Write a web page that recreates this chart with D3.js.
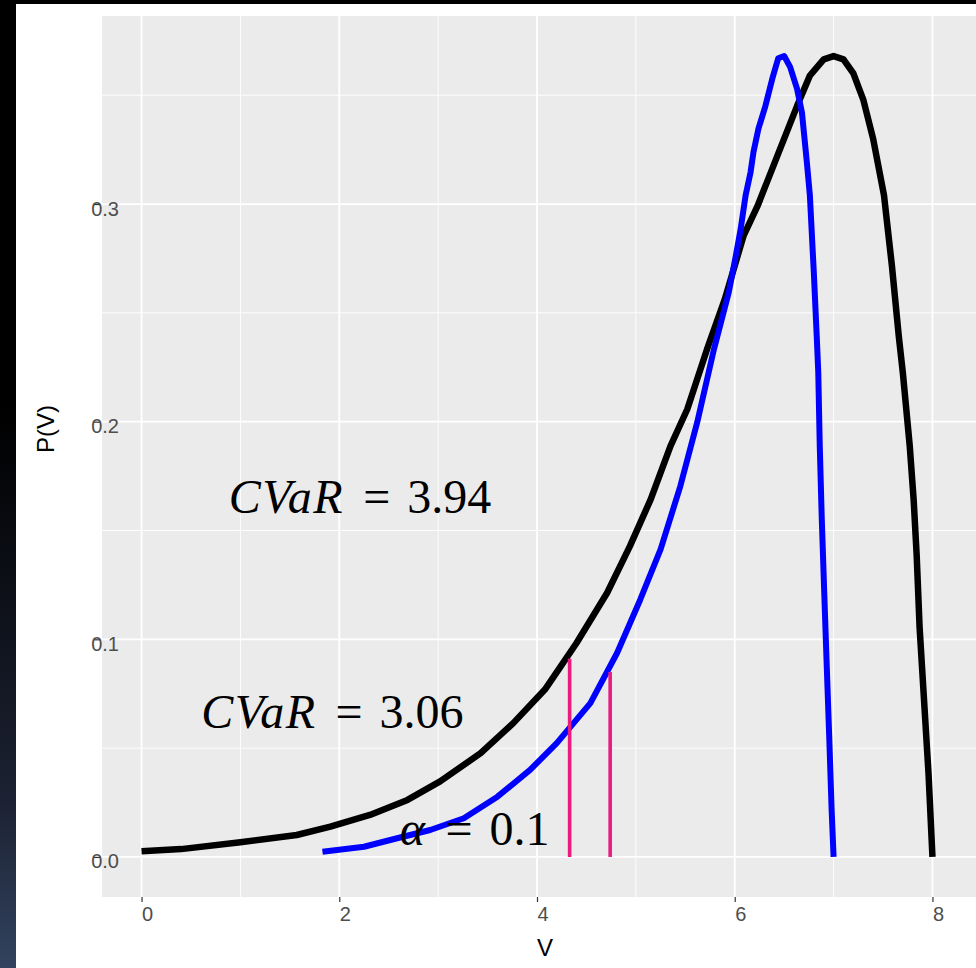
<!DOCTYPE html>
<html>
<head>
<meta charset="utf-8">
<script src="https://cdnjs.cloudflare.com/ajax/libs/d3/7.8.5/d3.min.js"></script>
<style>
  body { margin: 0; background: #fff; }
  svg { display: block; }
</style>
</head>
<body>
<div id="chart"></div>
<script>
// Black density (V, P(V))
const blackV = [0.0, 0.4, 1.0, 1.57, 1.91, 2.31, 2.69, 3.02, 3.43, 3.76, 4.08, 4.24, 4.40, 4.71, 4.94,
  5.15, 5.35, 5.52, 5.72, 5.90, 6.09, 6.23, 6.43, 6.63, 6.76, 6.90, 7.0, 7.10, 7.20, 7.30, 7.40,
  7.51, 7.59, 7.66, 7.70, 7.77, 7.81, 7.84, 7.87, 7.915, 7.96, 8.0];
const blackP = [0.0026, 0.0036, 0.0068, 0.0101, 0.0139, 0.0193, 0.0262, 0.0347, 0.0477, 0.0615, 0.0769, 0.0876, 0.0983, 0.1214, 0.1428,
  0.1643, 0.1888, 0.2057, 0.2333, 0.2563, 0.2855, 0.299, 0.322, 0.345, 0.359, 0.3665, 0.368, 0.3665, 0.360, 0.348, 0.330,
  0.304, 0.2716, 0.239, 0.2227, 0.189, 0.164, 0.139, 0.1055, 0.072, 0.0385, 0.0];

// Blue density
const blueV = [1.83, 2.25, 2.585, 2.92, 3.26, 3.60, 3.93, 4.20, 4.54, 4.81, 5.045, 5.25, 5.45, 5.62, 5.79,
  5.94, 6.01, 6.06, 6.11, 6.16, 6.19, 6.24, 6.31, 6.38, 6.44, 6.50, 6.56, 6.63, 6.68, 6.73, 6.76,
  6.80, 6.83, 6.845, 6.86, 6.88, 6.905, 6.93, 6.956, 6.98, 7.0];
const blueP = [0.0024, 0.0047, 0.0086, 0.0124, 0.0178, 0.0277, 0.040, 0.0523, 0.0707, 0.0937, 0.1183, 0.1413, 0.1704, 0.1996, 0.2333,
  0.2595, 0.276, 0.2885, 0.304, 0.3146, 0.324, 0.3346, 0.345, 0.3576, 0.367, 0.368, 0.363, 0.353, 0.342, 0.319, 0.304,
  0.2686, 0.2387, 0.2227, 0.189, 0.156, 0.122, 0.0887, 0.055, 0.0218, 0.0];

// alpha cut-off segments
const cutV = [4.33, 4.74];
const cutP = [0.0911, 0.085];

// Ticks and grid
const xTicks = [0, 2, 4, 6, 8];
const xMinor = [1, 3, 5, 7];
const yTicks = [0, 0.1, 0.2, 0.3];
const yMinor = [0.05, 0.15, 0.25, 0.35];

// Annotations (math text)
const noteVar = ["CVaR", "CVaR", "α"];
const noteRest = ["= 3.94", "= 3.06", "= 0.1"];
const noteV = [2.21, 1.93, 3.37];
const noteP = [0.158, 0.0594, 0.0055];

const W = 976, H = 968;
const panel = { left: 102, top: 16, right: 976, bottom: 897 };

const svg = d3.select("#chart")
  .append("svg")
  .attr("width", W)
  .attr("height", H);

// slide frame: black top band and dark gradient strip on the left
const grad = svg.append("defs").append("linearGradient")
  .attr("id", "strip")
  .attr("x1", 0).attr("y1", 0).attr("x2", 0).attr("y2", 1);
grad.append("stop").attr("offset", "0").attr("stop-color", "#000");
grad.append("stop").attr("offset", "0.42").attr("stop-color", "#000");
grad.append("stop").attr("offset", "0.83").attr("stop-color", "#1c2233");
grad.append("stop").attr("offset", "1").attr("stop-color", "#32435f");

svg.append("rect").attr("x", 0).attr("y", 0).attr("width", W).attr("height", 4).attr("fill", "#000");
svg.append("rect").attr("x", 0).attr("y", 0).attr("width", 16).attr("height", H).attr("fill", "url(#strip)");

// Scales
const x = d3.scaleLinear().domain([-0.4, 8.4]).range([panel.left, 972]);
const y = d3.scaleLinear().domain([-0.0184, 0.3864]).range([panel.bottom, panel.top]);

// Panel
svg.append("rect")
  .attr("x", panel.left)
  .attr("y", panel.top)
  .attr("width", panel.right - panel.left)
  .attr("height", panel.bottom - panel.top)
  .attr("fill", "#EBEBEB");

// Grid lines
const grid = svg.append("g");
grid.selectAll(".vminor").data(xMinor).enter().append("line")
  .attr("x1", d => x(d)).attr("x2", d => x(d))
  .attr("y1", panel.top).attr("y2", panel.bottom)
  .attr("stroke", "#fff").attr("stroke-width", 0.9);
grid.selectAll(".hminor").data(yMinor).enter().append("line")
  .attr("x1", panel.left).attr("x2", panel.right)
  .attr("y1", d => y(d)).attr("y2", d => y(d))
  .attr("stroke", "#fff").attr("stroke-width", 0.9);
grid.selectAll(".vmajor").data(xTicks).enter().append("line")
  .attr("x1", d => x(d)).attr("x2", d => x(d))
  .attr("y1", panel.top).attr("y2", panel.bottom)
  .attr("stroke", "#fff").attr("stroke-width", 1.8);
grid.selectAll(".hmajor").data(yTicks).enter().append("line")
  .attr("x1", panel.left).attr("x2", panel.right)
  .attr("y1", d => y(d)).attr("y2", d => y(d))
  .attr("stroke", "#fff").attr("stroke-width", 1.8);

// Curves
const line = d3.line()
  .x(d => x(d[0]))
  .y(d => y(d[1]));

svg.append("path")
  .datum(d3.zip(blackV, blackP))
  .attr("d", line)
  .attr("fill", "none")
  .attr("stroke", "#000")
  .attr("stroke-width", 6.5)
  .attr("stroke-linejoin", "round");

svg.append("path")
  .datum(d3.zip(blueV, blueP))
  .attr("d", line)
  .attr("fill", "none")
  .attr("stroke", "#0000FF")
  .attr("stroke-width", 6)
  .attr("stroke-linejoin", "round");

// alpha segments
svg.selectAll(".cut")
  .data(d3.zip(cutV, cutP))
  .enter().append("line")
  .attr("x1", d => x(d[0])).attr("x2", d => x(d[0]))
  .attr("y1", y(0)).attr("y2", d => y(d[1]))
  .attr("stroke", "#EA1A7E")
  .attr("stroke-width", 3.6);

// Annotations
const notes = svg.selectAll(".note")
  .data(d3.zip(noteVar, noteRest, noteV, noteP))
  .enter().append("text")
  .attr("x", d => x(d[2]))
  .attr("y", d => y(d[3]))
  .attr("text-anchor", "middle")
  .style("font-family", "'Liberation Serif', 'Times New Roman', serif")
  .style("font-size", "48px")
  .attr("fill", "#000");
notes.append("tspan")
  .style("font-style", "italic")
  .style("letter-spacing", "1.5px")
  .text(d => d[0]);
notes.append("tspan").attr("dx", 19).text(d => d[1].split(" ")[0]);
notes.append("tspan").attr("dx", 17).text(d => d[1].split(" ")[1]);

// X axis
const xAxis = svg.append("g")
  .attr("transform", `translate(0, ${panel.bottom})`)
  .call(d3.axisBottom(x).tickValues(xTicks).tickSize(5).tickPadding(5).tickFormat(d3.format("d")));
xAxis.select(".domain").remove();
xAxis.selectAll("line").attr("stroke", "#333").attr("stroke-width", 1.2);
xAxis.selectAll("text")
  .attr("dx", 5.5)
  .attr("fill", "#4D4D4D")
  .style("font-family", "'Liberation Sans', Arial, sans-serif")
  .style("font-size", "20px");

// Y axis
const yAxis = svg.append("g")
  .attr("transform", "translate(100, 0)")
  .call(d3.axisLeft(y).tickValues(yTicks).tickSize(6).tickFormat(d3.format(".1f")));
yAxis.select(".domain").remove();
yAxis.selectAll("line").attr("stroke", "#333").attr("stroke-width", 1.2);
yAxis.selectAll("text")
  .attr("x", 19)
  .attr("dy", "0.55em")
  .attr("fill", "#4D4D4D")
  .style("font-family", "'Liberation Sans', Arial, sans-serif")
  .style("font-size", "20px");

// Axis titles
svg.append("text")
  .attr("x", 545)
  .attr("y", 956)
  .attr("text-anchor", "middle")
  .style("font-family", "'Liberation Sans', Arial, sans-serif")
  .style("font-size", "24px")
  .text("V");

svg.append("text")
  .attr("transform", "translate(54, 429) rotate(-90)")
  .attr("text-anchor", "middle")
  .style("font-family", "'Liberation Sans', Arial, sans-serif")
  .style("font-size", "24px")
  .text("P(V)");
</script>
</body>
</html>
